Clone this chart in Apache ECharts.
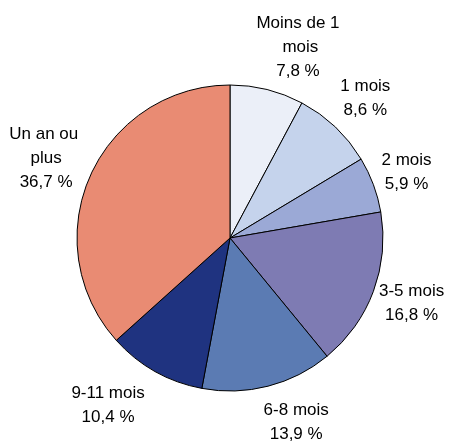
<!DOCTYPE html>
<html><head><meta charset="utf-8">
<script src="https://cdn.jsdelivr.net/npm/echarts@6/dist/echarts.min.js"></script>
<style>html,body{margin:0;padding:0;background:#fff}#c{width:450px;height:441px}</style>
</head><body><div id="c"></div>
<script>
const categories = ['Moins de 1 mois', '1 mois', '2 mois', '3-5 mois', '6-8 mois', '9-11 mois', 'Un an ou plus'];
const values = [7.8, 8.6, 5.9, 16.8, 13.9, 10.4, 36.7];
const colors = ['#EBEFF8', '#C5D3EC', '#9BA9D6', '#7E7BB3', '#5B7BB3', '#1F3380', '#E98B73'];

const CX = 230, CY = 238, R = 153, LR = 198;
const total = values.reduce((a, b) => a + b, 0);
const mids = [];
let acc = 0;
values.forEach(v => { mids.push((acc + v / 2) / total * 2 * Math.PI); acc += v; });

const chart = echarts.init(document.getElementById('c'), null, {renderer: 'canvas'});
chart.setOption({
  animation: false,
  series: [{
    type: 'pie',
    center: [CX, CY],
    radius: [0, R],
    startAngle: 90,
    clockwise: true,
    avoidLabelOverlap: false,
    itemStyle: {borderColor: '#000', borderWidth: 1},
    emphasis: {disabled: true},
    labelLine: {show: false},
    label: {
      show: true,
      position: 'outside',
      fontFamily: 'Liberation Sans, Arial, sans-serif',
      fontSize: 17,
      lineHeight: 24,
      color: '#000',
      width: 84,
      overflow: 'break',
      align: 'center',
      formatter: p => p.name + '\n' + p.value.toFixed(1).replace('.', ',') + ' %'
    },
    labelLayout: p => {
      const nudge = [[20, 1], [-1, 4], [-9, 3], [-4, -4], [17, -7], [-25, -5], [-3, 1]][p.dataIndex];
      const a = mids[p.dataIndex];
      return {x: CX + LR * Math.sin(a) + nudge[0], y: CY - LR * Math.cos(a) + nudge[1], align: 'center', verticalAlign: 'middle'};
    },
    data: categories.map((c, i) => ({name: c, value: values[i], itemStyle: {color: colors[i]}}))
  }]
});
</script></body></html>
